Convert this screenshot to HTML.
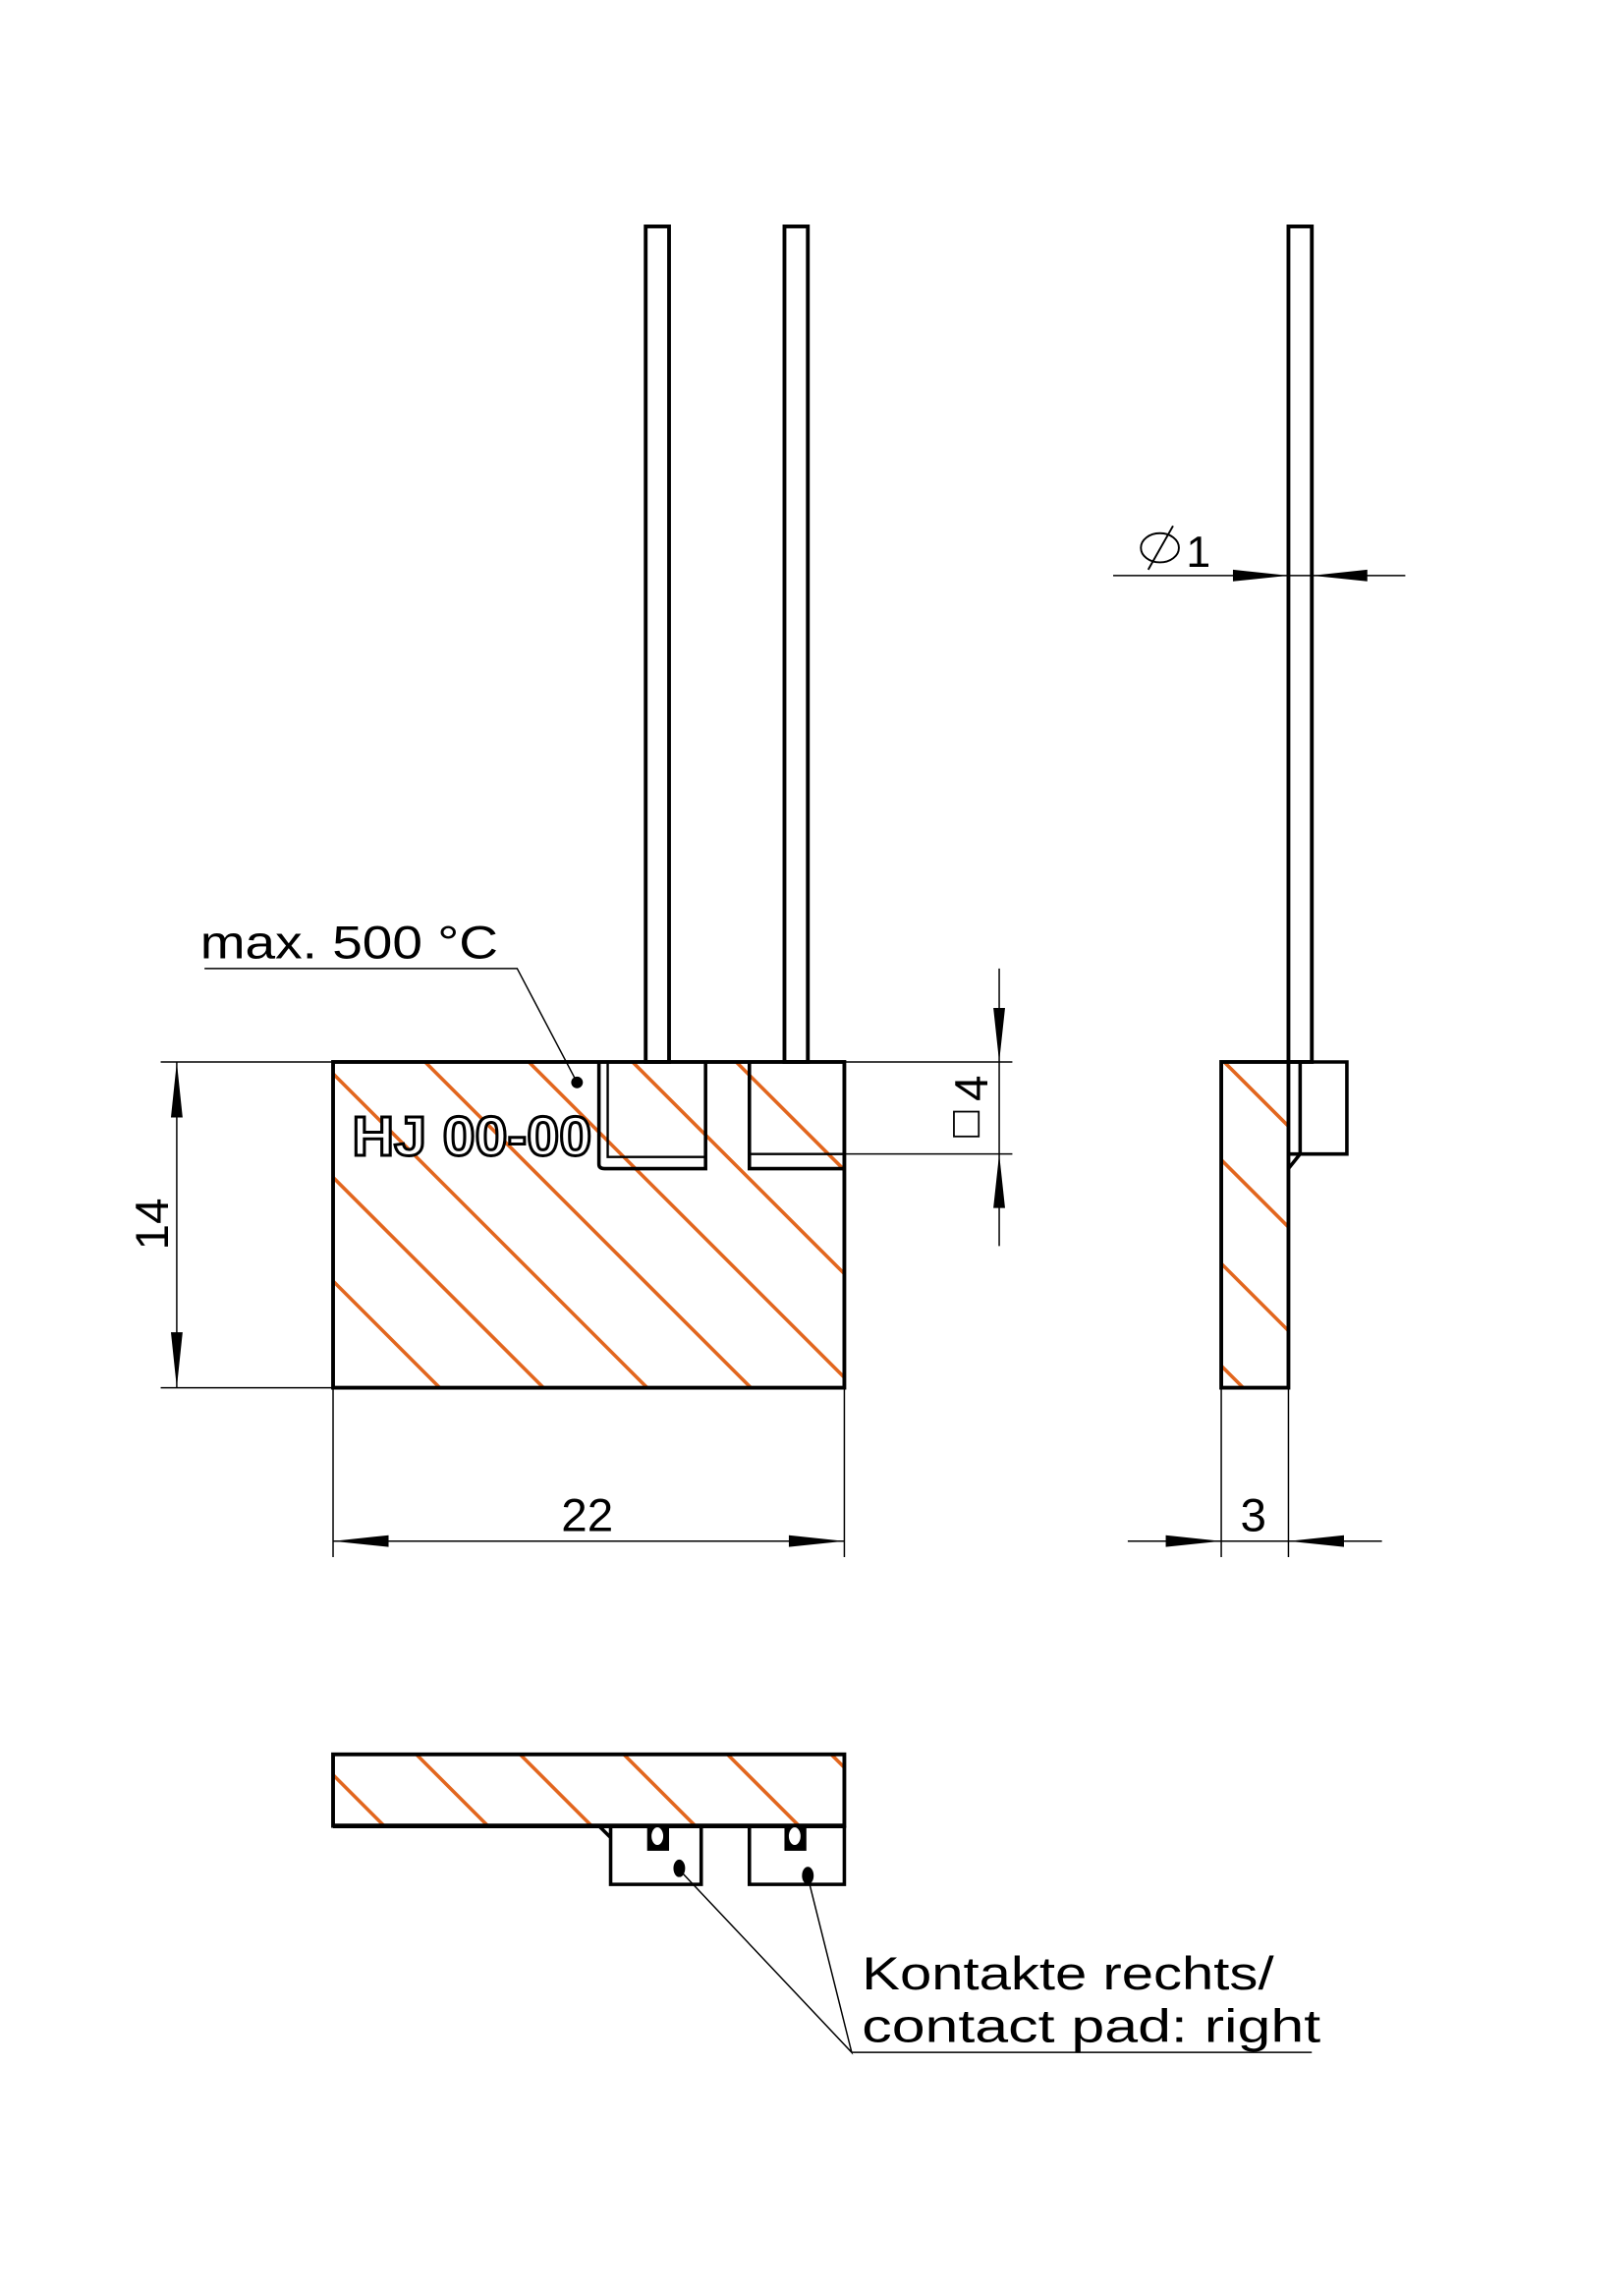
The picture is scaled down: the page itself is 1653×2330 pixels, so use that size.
<!DOCTYPE html>
<html><head><meta charset="utf-8"><style>html,body{margin:0;padding:0;background:#fff}svg{display:block}</style></head>
<body>
<svg xmlns="http://www.w3.org/2000/svg" width="1653" height="2330" viewBox="0 0 1111.7 1567">
<defs>
<clipPath id="cf"><rect x="228" y="727" width="350" height="223"/></clipPath>
<clipPath id="cs"><rect x="836" y="727" width="46" height="223"/></clipPath>
<clipPath id="cb"><rect x="228" y="1201" width="350" height="49"/></clipPath>
</defs>
<g fill="none" stroke="#000" font-family="Liberation Sans, sans-serif">
<!-- front hatch -->
<g clip-path="url(#cf)" stroke="#e2661e" stroke-width="2.4">
<line x1="0" y1="649" x2="800" y2="1449"/>
<line x1="0" y1="578" x2="800" y2="1378"/>
<line x1="0" y1="507" x2="800" y2="1307"/>
<line x1="0" y1="436" x2="800" y2="1236"/>
<line x1="0" y1="365" x2="800" y2="1165"/>
<line x1="0" y1="294" x2="800" y2="1094"/>
<line x1="0" y1="223" x2="800" y2="1023"/>
</g>
<!-- front view -->
<rect x="228" y="727" width="350" height="223" stroke-width="2.6"/>
<rect x="442" y="155" width="16" height="572" stroke-width="2.6"/>
<rect x="537" y="155" width="16" height="572" stroke-width="2.6"/>
<path d="M410 727 V797 Q410 800 414 800 H483 V727" stroke-width="2.4" fill="none"/>
<path d="M416 727 V792 H483" stroke-width="1.6"/>
<path d="M513 727 V800 H578" stroke-width="2.4"/>
<path d="M513 790 H578" stroke-width="1.6"/>
<text x="241" y="791" font-size="38" font-weight="bold" fill="#fff" stroke="#000" stroke-width="2" textLength="164" lengthAdjust="spacingAndGlyphs">HJ 00-00</text>
<circle cx="395" cy="741" r="4" fill="#000" stroke="none"/>
<polyline points="395,741 354,663 140,663" stroke-width="1"/>
<text x="137" y="656" font-size="32" fill="#000" stroke="none" textLength="204" lengthAdjust="spacingAndGlyphs">max. 500 °C</text>
<g stroke-width="1">
<line x1="110" y1="727" x2="228" y2="727"/>
<line x1="110" y1="950" x2="228" y2="950"/>
<line x1="121" y1="727" x2="121" y2="950"/>
<line x1="228" y1="950" x2="228" y2="1066"/>
<line x1="578" y1="950" x2="578" y2="1066"/>
<line x1="228" y1="1055" x2="578" y2="1055"/>
<line x1="578" y1="727" x2="693" y2="727"/>
<line x1="578" y1="790" x2="693" y2="790"/>
<line x1="684" y1="663" x2="684" y2="853"/>
</g>
<g fill="#000" stroke="none">
<polygon points="121,727 117,765 125,765"/>
<polygon points="121,950 117,912 125,912"/>
<polygon points="228,1055 266,1051 266,1059"/>
<polygon points="578,1055 540,1051 540,1059"/>
<polygon points="684,727 680,690 688,690"/>
<polygon points="684,790 680,827 688,827"/>
</g>
<text transform="translate(115,838) rotate(-90)" text-anchor="middle" font-size="32" fill="#000" stroke="none">14</text>
<text x="402" y="1048" text-anchor="middle" font-size="32" fill="#000" stroke="none">22</text>
<rect x="653" y="761" width="17" height="17" stroke-width="1.2"/>
<text transform="translate(676,745) rotate(-90)" text-anchor="middle" font-size="32" fill="#000" stroke="none">4</text>
<!-- side view -->
<g clip-path="url(#cs)" stroke="#e2661e" stroke-width="2.4">
<line x1="800" y1="689" x2="1000" y2="889"/>
<line x1="800" y1="758" x2="1000" y2="958"/>
<line x1="800" y1="829" x2="1000" y2="1029"/>
<line x1="800" y1="899" x2="1000" y2="1099"/>
</g>
<rect x="836" y="727" width="46" height="223" stroke-width="2.6"/>
<rect x="882" y="155" width="16" height="572" stroke-width="2.6"/>
<path d="M882 727 H922 V790 H890 V727 M882 790 H890 M882 800 L890 790" stroke-width="2.4"/>
<g stroke-width="1">
<line x1="762" y1="394" x2="962" y2="394"/>
<line x1="836" y1="950" x2="836" y2="1066"/>
<line x1="882" y1="950" x2="882" y2="1066"/>
<line x1="772" y1="1055" x2="946" y2="1055"/>
</g>
<g fill="#000" stroke="none">
<polygon points="882,394 844,390 844,398"/>
<polygon points="898,394 936,390 936,398"/>
<polygon points="836,1055 798,1051 798,1059"/>
<polygon points="882,1055 920,1051 920,1059"/>
</g>
<ellipse cx="794" cy="375" rx="13" ry="10" stroke-width="1.3"/>
<line x1="786" y1="390" x2="803" y2="360" stroke-width="1.3"/>
<text x="812" y="388" font-size="30" fill="#000" stroke="none">1</text>
<text x="858" y="1048" text-anchor="middle" font-size="32" fill="#000" stroke="none">3</text>
<!-- bottom view -->
<g clip-path="url(#cb)" stroke="#e2661e" stroke-width="2.4">
<line x1="200" y1="1187" x2="300" y2="1287"/>
<line x1="271" y1="1187" x2="371" y2="1287"/>
<line x1="342" y1="1187" x2="442" y2="1287"/>
<line x1="413" y1="1187" x2="513" y2="1287"/>
<line x1="484" y1="1187" x2="584" y2="1287"/>
<line x1="555" y1="1187" x2="655" y2="1287"/>
</g>
<rect x="228" y="1201" width="350" height="49" stroke-width="2.6"/>
<line x1="228" y1="1250" x2="578" y2="1250" stroke-width="3.2"/>
<path d="M418 1250 V1290 H480 V1250 M513 1250 V1290 H578 V1250 M410 1250 L418 1258" stroke-width="2.4"/>
<rect x="443" y="1250" width="15" height="17" fill="#000" stroke="none"/>
<ellipse cx="450" cy="1257" rx="4" ry="6" fill="#fff" stroke="none"/>
<rect x="537" y="1250" width="15" height="17" fill="#000" stroke="none"/>
<ellipse cx="544" cy="1257" rx="4" ry="6" fill="#fff" stroke="none"/>
<ellipse cx="465" cy="1279" rx="4" ry="6" fill="#000" stroke="none"/>
<ellipse cx="553" cy="1284" rx="4" ry="6" fill="#000" stroke="none"/>
<polyline points="465,1280 583,1405 553,1285" stroke-width="1"/>
<line x1="583" y1="1405" x2="898" y2="1405" stroke-width="1"/>
<text x="590" y="1362" font-size="32" fill="#000" stroke="none" textLength="282" lengthAdjust="spacingAndGlyphs">Kontakte rechts/</text>
<text x="590" y="1398" font-size="32" fill="#000" stroke="none" textLength="314" lengthAdjust="spacingAndGlyphs">contact pad: right</text>
</g>
</svg>
</body></html>
